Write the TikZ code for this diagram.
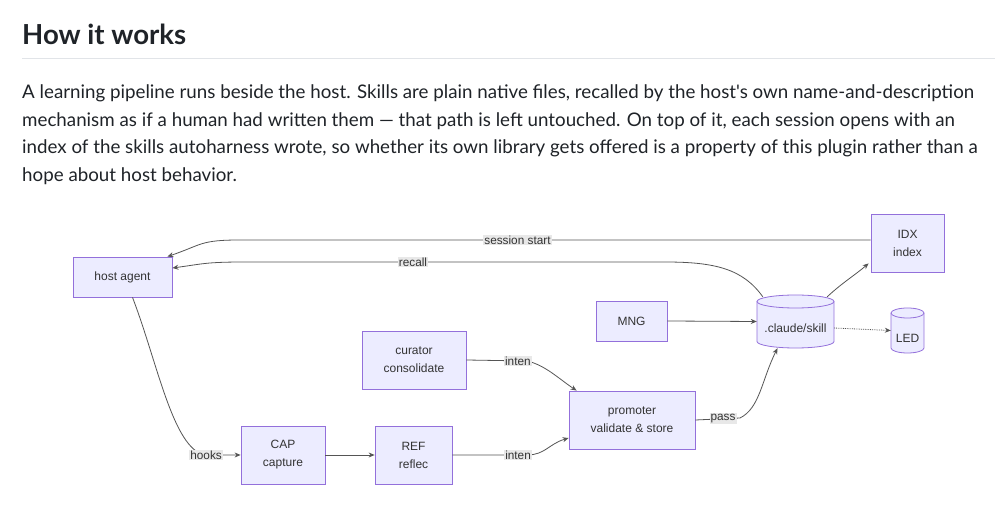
\documentclass[tikz,border=0pt]{standalone}
\usepackage{fontspec}
\setmainfont{Liberation Sans}
\newfontfamily\bodyfont{Lato}
\usetikzlibrary{arrows.meta}
\definecolor{nodefill}{HTML}{ECECFF}
\definecolor{nodeline}{HTML}{9370DB}
\definecolor{edgecol}{HTML}{555555}
\definecolor{txt}{HTML}{333333}
\definecolor{lblbg}{HTML}{E8E8E8}
\definecolor{bodytxt}{HTML}{1F2328}
\definecolor{rulecol}{HTML}{E1E4E8}
\newlength\lineone
\newlength\headwd
\begin{document}
\settowidth{\lineone}{\bodyfont\fontsize{18}{20}\selectfont A learning pipeline runs beside the host. Skills are plain native files, recalled by the host's own name-and-description}
\settowidth{\headwd}{\bodyfont\bfseries\fontsize{26}{30}\selectfont How it works}
\pgfmathsetmacro\bodysize{952/\lineone*18}
\pgfmathsetmacro\headsize{164/\headwd*26}
\begin{tikzpicture}[x=1pt,y=-1pt,
 box/.style={draw=nodeline,fill=nodefill,line width=0.8pt,text=txt,font=\fontsize{12}{18}\selectfont,align=center,inner sep=0pt},
 cyltext/.style={text=txt,font=\fontsize{12}{18}\selectfont,inner sep=0pt},
 anchorbox/.style={inner sep=0pt},
 conn/.style={draw=edgecol,line width=0.8pt,-{Stealth[length=6pt,width=5pt]}},
 lbl/.style={fill=lblbg,text=txt,font=\fontsize{11.8}{13}\selectfont,inner sep=1pt},
 para/.style={anchor=base west,inner sep=0pt,text=bodytxt,font=\bodyfont\fontsize{\bodysize}{20}\selectfont},
 head/.style={anchor=base west,inner sep=0pt,text=bodytxt,font=\bodyfont\bfseries\fontsize{\headsize}{30}\selectfont}]
\useasboundingbox[fill=white] (0,0) rectangle (999,510);

% heading and paragraph
\node[head] (title) at (22,45) {How it works};
\draw[rulecol,line width=1pt] (22,59) -- (995,59);
\node[para] (p1) at (22,99) {A learning pipeline runs beside the host. Skills are plain native files, recalled by the host's own name-and-description};
\node[para] (p2) at (22,126.5) {mechanism as if a human had written them — that path is left untouched. On top of it, each session opens with an};
\node[para] (p3) at (22,154) {index of the skills autoharness wrote, so whether its own library gets offered is a property of this plugin rather than a};
\node[para] (p4) at (22,181.5) {hope about host behavior.};

% boxes
\node[box,minimum width=99pt,minimum height=40pt] (host) at (122.5,277) {host agent};
\node[box,minimum width=73pt,minimum height=58pt] (idx) at (907.5,243) {IDX\\index};
\node[box,minimum width=71pt,minimum height=40pt] (mng) at (631.5,321) {MNG};
\node[box,minimum width=104pt,minimum height=58pt] (curator) at (414,360) {curator\\consolidate};
\node[box,minimum width=126pt,minimum height=58pt] (promoter) at (632,420) {promoter\\validate \& store};
\node[box,minimum width=84pt,minimum height=58pt] (cap) at (283,455) {CAP\\capture};
\node[box,minimum width=77pt,minimum height=58pt] (ref) at (413.5,455) {REF\\reflec};

% .claude/skill cylinder
\fill[nodefill] (757,301.5) rectangle (834,341.5);
\fill[nodefill] (795.5,341.5) ellipse [x radius=38.5, y radius=6.5];
\draw[nodeline,line width=0.8pt] (757,301.5) -- (757,341.5) arc[start angle=180,end angle=0,x radius=38.5,y radius=6.5] -- (834,301.5);
\draw[nodeline,fill=nodefill,line width=0.8pt] (795.5,301.5) ellipse [x radius=38.5,y radius=6.5];
\node[anchorbox,minimum width=77pt,minimum height=53pt] (skill) at (795.5,321.5) {};
\node[cyltext] (skilltext) at (795.5,328) {.claude/skill};

% LED cylinder
\fill[nodefill] (891,313) rectangle (924,348);
\fill[nodefill] (907.5,348) ellipse [x radius=16.5, y radius=5];
\draw[nodeline,line width=0.8pt] (891,313) -- (891,348) arc[start angle=180,end angle=0,x radius=16.5,y radius=5] -- (924,313);
\draw[nodeline,fill=nodefill,line width=0.8pt] (907.5,313) ellipse [x radius=16.5,y radius=5];
\node[anchorbox,minimum width=33pt,minimum height=45pt] (led) at (907.5,330.5) {};
\node[cyltext] (ledtext) at (907.5,338) {LED};

% connectors
\coordinate (c1) at (240,240);
\draw[conn] ([yshift=3pt]idx.west) -- node[lbl,pos=0.56]{session start} (c1) .. controls +(-40,0) and +(35,-12) .. ([xshift=-5pt]host.north east);

\coordinate (c2) at (665,262);
\coordinate (c3) at (245,262);
\draw[conn] ([xshift=6pt,yshift=-2pt]skill.north west) .. controls +(-20,-28) and +(50,0) .. (c2) -- node[lbl,pos=0.6]{recall} (c3) .. controls +(-40,0) and +(30,-4) .. ([yshift=9pt]host.east);

\draw[conn] ([xshift=-7pt,yshift=-2pt]skill.north east) .. controls +(15,-14) and +(-14,12) .. ([xshift=-2pt,yshift=9pt]idx.south west);

\draw[conn] (mng.east) -- (skill.west);

\draw[conn,densely dotted] ([yshift=-6.5pt]skill.east) -- (led.west);

\coordinate (c4) at (205,455);
\draw[conn] ([xshift=10pt]host.south) .. controls +(25,65) and +(-32,-6) .. (c4) -- node[lbl,pos=0.03]{hooks} (cap.west);

\draw[conn] (cap.east) -- (ref.west);

\coordinate (c5) at (527,455);
\draw[conn] (ref.east) -- node[lbl,pos=0.88]{inten} (c5) .. controls +(18,0) and +(-20,6) .. ([yshift=-18pt]promoter.west);

\coordinate (c6) at (527,361);
\draw[conn] (curator.east) -- node[lbl,pos=0.85]{inten} (c6) .. controls +(18,4) and +(-18,-12) .. ([xshift=8pt]promoter.north west);

\coordinate (c7) at (740,418);
\draw[conn] (promoter.east) -- node[lbl,pos=0.62]{pass} (c7) .. controls +(20,-10) and +(-16,32) .. ([xshift=-18pt]skill.south);
\end{tikzpicture}
\end{document}
